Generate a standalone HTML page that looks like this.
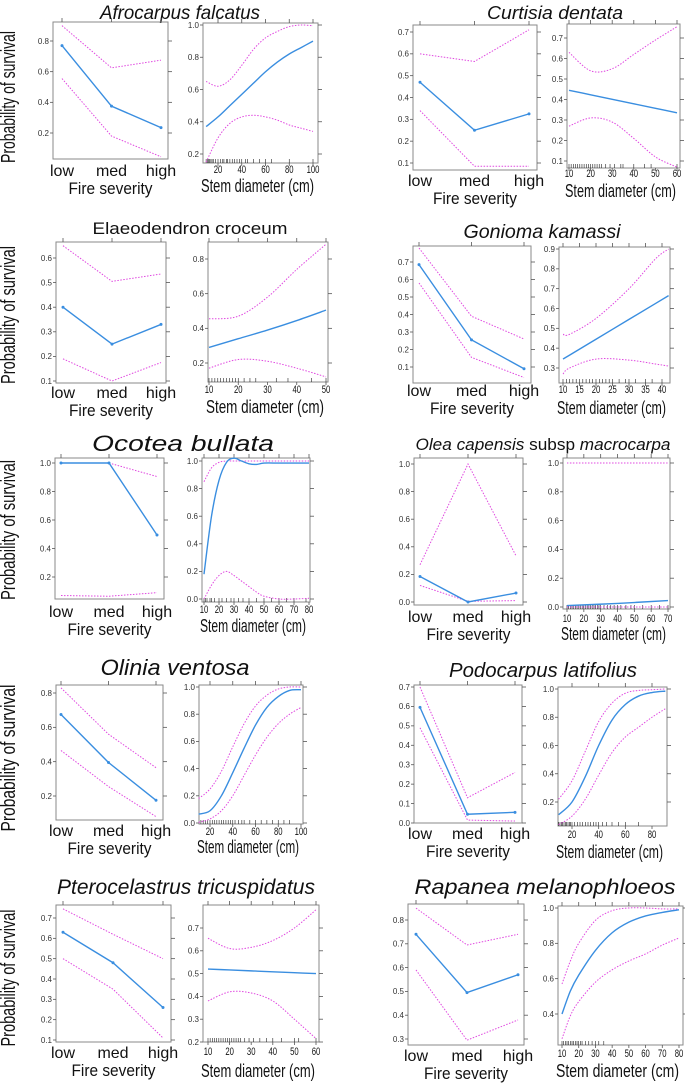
<!DOCTYPE html>
<html><head><meta charset="utf-8"><style>
html,body{margin:0;padding:0;background:#fff;}
svg{display:block;font-family:"Liberation Sans",sans-serif;}
</style></head><body>
<svg id="fig" width="685" height="1085" viewBox="0 0 685 1085" xmlns="http://www.w3.org/2000/svg"></svg>
<script>
const fireCats = ["low","med","high"];
// Afrocarpus falcatus
const afFireMean=[0.77,0.375,0.235], afFireUp=[0.90,0.625,0.675], afFireLo=[0.555,0.18,0.045];
const afDiam=[10,20,30,40,50,60,70,80,90,100];
const afDiamMean=[0.37,0.43,0.50,0.57,0.64,0.71,0.77,0.82,0.86,0.90];
const afDiamUp=[0.65,0.62,0.66,0.75,0.85,0.92,0.96,0.99,1.0,0.995];
const afDiamLo=[0.15,0.30,0.39,0.43,0.44,0.43,0.41,0.38,0.36,0.34];
const afRug=[10,11,12,13,14,15,16,18,20,22,24,25,27,28,30,32,34,36,38,40,43,45,50,55,60,65,80,100];
// Curtisia dentata
const cuFireMean=[0.47,0.25,0.325], cuFireUp=[0.60,0.565,0.71], cuFireLo=[0.34,0.085,0.085];
const cuDiam=[10,20,30,40,50,60];
const cuDiamMean=[0.445,0.423,0.401,0.379,0.357,0.335];
const cuDiamUp=[0.63,0.54,0.55,0.62,0.69,0.755];
const cuDiamLo=[0.27,0.31,0.29,0.21,0.12,0.07];
const cuRug=[10,11,12,13,14,15,16,17,18,19,20,21,22,23,24,25,27,29,31,34,35,40,45,48,60];
// Elaeodendron croceum
const elFireMean=[0.40,0.25,0.33], elFireUp=[0.65,0.505,0.535], elFireLo=[0.19,0.10,0.175];
const elDiam=[10,20,30,40,50];
const elDiamMean=[0.29,0.34,0.39,0.445,0.505];
const elDiamUp=[0.455,0.47,0.58,0.74,0.885];
const elDiamLo=[0.17,0.22,0.21,0.17,0.12];
const elRug=[10,11,12,13,14,15,16,17,18,19,20,22,24,26,33,37,45,50];
// Gonioma kamassi
const goFireMean=[0.685,0.255,0.09], goFireUp=[0.78,0.39,0.26], goFireLo=[0.58,0.155,0.04];
const goDiam=[10,12,20,30,38,42];
const goDiamMean=[0.345,0.365,0.445,0.545,0.625,0.665];
const goDiamUp=[0.47,0.47,0.55,0.70,0.85,0.90];
const goDiamLo=[0.27,0.30,0.345,0.34,0.32,0.31];
const goRug=[10,11,12,13,14,15,16,17,18,19,20,21,22,23,24,25,27,29,30,32,35,37,40];
// Ocotea bullata
const ocFireMean=[1.0,1.0,0.495], ocFireUp=[1.0,1.0,0.905], ocFireLo=[0.07,0.065,0.09];
const ocDiam=[10,15,20,25,30,35,40,45,50,60,70,80];
const ocDiamMean=[0.18,0.6,0.86,0.99,1.02,1.0,0.98,0.975,0.985,0.985,0.985,0.985];
const ocDiamUp=[0.85,0.95,0.99,1.0,1.0,1.0,1.0,1.0,1.0,1.0,1.0,1.0];
const ocDiamLo=[0.0,0.1,0.17,0.2,0.17,0.13,0.09,0.05,0.02,0.0,0.0,0.005];
const ocRug=[10,11,12,14,15,17,20,22,25,28,30,33,36,40,45,50,55,60,65,70,78];
// Olea capensis
const olFireMean=[0.185,0.0,0.065], olFireUp=[0.27,1.0,0.335], olFireLo=[0.12,0.005,0.01];
const olDiam=[10,40,70];
const olDiamMean=[0.01,0.025,0.045];
const olDiamUp=[1.0,1.0,1.0];
const olDiamLo=[0.0,0.0,0.0];
const olRug=[10,11,12,13,14,15,16,17,18,19,20,21,22,23,24,25,26,27,28,29,30,32,34,36,38,40,42,45,48,50,55,60,65,70];
// Olinia ventosa
const oiFireMean=[0.675,0.395,0.175], oiFireUp=[0.83,0.56,0.365], oiFireLo=[0.465,0.255,0.08];
const oiDiam=[10,20,30,40,50,60,70,80,90,100];
const oiDiamMean=[0.065,0.09,0.2,0.37,0.55,0.72,0.85,0.93,0.975,0.98];
const oiDiamUp=[0.18,0.25,0.38,0.56,0.73,0.86,0.94,0.985,1.0,1.0];
const oiDiamLo=[0.005,0.03,0.09,0.2,0.35,0.5,0.63,0.73,0.8,0.85];
const oiRug=[12,14,16,18,20,22,24,26,28,30,32,34,36,38,40,42,45,48,50,55,60,65,70,75,80,85,90];
// Podocarpus latifolius
const poFireMean=[0.595,0.045,0.055], poFireUp=[0.70,0.13,0.26], poFireLo=[0.49,0.015,0.01];
const poDiam=[10,20,30,40,50,60,70,80,90];
const poDiamMean=[0.11,0.2,0.38,0.6,0.78,0.89,0.95,0.975,0.985];
const poDiamUp=[0.22,0.35,0.56,0.77,0.9,0.97,0.99,0.995,1.0];
const poDiamLo=[0.04,0.1,0.22,0.39,0.55,0.66,0.73,0.8,0.86];
const poRug=[10,11,12,13,14,15,16,17,18,19,20,22,24,26,28,30,32,34,36,38,40,43,46,50,55,60,70];
// Pterocelastrus tricuspidatus
const ptFireMean=[0.63,0.48,0.26], ptFireUp=[0.745,0.62,0.5], ptFireLo=[0.5,0.35,0.11];
const ptDiam=[10,20,30,40,50,60];
const ptDiamMean=[0.52,0.516,0.512,0.508,0.504,0.50];
const ptDiamUp=[0.655,0.61,0.615,0.645,0.70,0.78];
const ptDiamLo=[0.38,0.42,0.415,0.38,0.30,0.215];
const ptRug=[10,11,12,13,14,15,16,17,18,19,20,21,22,23,24,25,27,29,31,34,37,40,44,50,52,60];
// Rapanea melanophloeos
const raFireMean=[0.74,0.495,0.57], raFireUp=[0.85,0.695,0.74], raFireLo=[0.59,0.295,0.38];
const raDiam=[10,15,20,30,40,50,60,70,80];
const raDiamMean=[0.40,0.53,0.62,0.76,0.86,0.92,0.955,0.975,0.99];
const raDiamUp=[0.57,0.70,0.80,0.93,0.985,1.0,1.0,0.995,0.995];
const raDiamLo=[0.26,0.39,0.47,0.58,0.65,0.70,0.74,0.79,0.83];
const raRug=[10,11,12,13,14,15,16,17,18,19,20,21,22,24,26,28,30,32,35];

const NS="http://www.w3.org/2000/svg";
const svg=document.getElementById('fig');
function mk(tag,attrs,parent){const e=document.createElementNS(NS,tag);for(const k in attrs)e.setAttribute(k,attrs[k]);(parent||svg).appendChild(e);return e;}
function lin(v1,p1,v2,p2){return v=>p1+(v-v1)*(p2-p1)/(v2-v1);}
function smooth(pts){let d="M"+pts[0][0]+","+pts[0][1];for(let i=0;i<pts.length-1;i++){const p0=pts[i-1]||pts[i],p1=pts[i],p2=pts[i+1],p3=pts[i+2]||p2;
const c1=[p1[0]+(p2[0]-p0[0])/6,p1[1]+(p2[1]-p0[1])/6],c2=[p2[0]-(p3[0]-p1[0])/6,p2[1]-(p3[1]-p1[1])/6];
d+=" C"+c1[0]+","+c1[1]+" "+c2[0]+","+c2[1]+" "+p2[0]+","+p2[1];}return d;}

function frame(g,b,ys,yticks,topTicks){
  const r=mk('rect',{x:b[0],y:b[1],width:b[2],height:b[3],fill:'none',stroke:'#8a8a8a','stroke-width':1},g);
  
  
  yticks.forEach(v=>{const y=ys(v);
    mk('line',{x1:b[0]-3,x2:b[0],y1:y,y2:y,stroke:'#555','stroke-width':0.8},g);
    mk('line',{x1:b[0]+b[2],x2:b[0]+b[2]+4,y1:y,y2:y,stroke:'#555','stroke-width':0.8},g);
    const t=mk('text',{x:b[0]-4,y:y+2.8,'font-size':8,'text-anchor':'end',fill:'#333'},g);
    t.textContent=v.toFixed(1);
    
    
  });
  topTicks.forEach(x=>mk('line',{x1:x,x2:x,y1:b[1]-4,y2:b[1],stroke:'#555','stroke-width':0.8},g));
}
function series(g,xs,ys,xv,yv,cls,smoothIt){
  const pts=xv.map((x,i)=>[xs(x),ys(yv[i])]);
  const d=smoothIt?smooth(pts):"M"+pts.map(p=>p.join(",")).join(" L");
  const p=mk('path',{d:d,fill:'none',stroke:cls==='mean'?'#3a8ee0':'#e048e0','stroke-width':cls==='mean'?1.4:1,'stroke-dasharray':cls==='mean'?'none':'1.5,1.5'},g);
  
  
  if(cls==='mean'&&!smoothIt)pts.forEach(q=>mk('circle',{cx:q[0],cy:q[1],r:1.5,fill:'#3a8ee0'},g));
}
function firePanel(P,mean,up,lo){
  const g=mk('g',{});
  
  
  const b=P.box, ys=lin(P.yr[0],P.yr[1],P.yr[2],P.yr[3]), xs=lin(0,P.cx[0],2,P.cx[1]);
  const idx=fireCats.map((c,i)=>i);
  frame(g,b,ys,P.yt,idx.map(xs));
  series(g,xs,ys,idx,up,'up',false);series(g,xs,ys,idx,lo,'lo',false);series(g,xs,ys,idx,mean,'mean',false);
  fireCats.forEach((c,i)=>{const t=mk('text',{x:xs(i),y:P.ly,'font-size':16,'text-anchor':'middle',fill:'#111'},g);t.textContent=c;
    
    });
  const t=mk('text',{x:b[0]+b[2]/2,y:P.ly+18,'font-size':17,'text-anchor':'middle',fill:'#111',textLength:84,lengthAdjust:'spacingAndGlyphs'},g);
  t.textContent='Fire severity';
  
  
}
function diamPanel(P,dv,mean,up,lo,rug){
  const g=mk('g',{});
  
  
  const b=P.box, ys=lin(P.yr[0],P.yr[1],P.yr[2],P.yr[3]), xs=lin(P.xr[0],P.xr[1],P.xr[2],P.xr[3]);
  frame(g,b,ys,P.yt,P.xt.map(xs));
  rug.forEach(v=>mk('line',{x1:xs(v),x2:xs(v),y1:b[1]+b[3]-4,y2:b[1]+b[3],stroke:'#222','stroke-width':0.6},g));
  series(g,xs,ys,dv,up,'up',true);series(g,xs,ys,dv,lo,'lo',true);series(g,xs,ys,dv,mean,'mean',true);
  P.xt.forEach(v=>{mk('line',{x1:xs(v),x2:xs(v),y1:b[1]+b[3],y2:b[1]+b[3]+3,stroke:'#555','stroke-width':0.8},g);
    const t=mk('text',{x:xs(v),y:P.ty,'font-size':11,'text-anchor':'middle',fill:'#111',transform:'translate('+xs(v)+',0) scale(0.7,1) translate('+(-xs(v))+',0)'},g);
    t.textContent=v;
    
    });
  const t=mk('text',{x:b[0]+b[2]/2-3,y:P.ly,'font-size':18,'text-anchor':'middle',fill:'#111',textLength:b[2]-2,lengthAdjust:'spacingAndGlyphs'},g);
  t.textContent='Stem diameter (cm)';
  
  
}
function title(x,y,w,size,parts){
  const t=mk('text',{x:x,y:y,'font-size':size,'text-anchor':'middle',fill:'#111',textLength:w,lengthAdjust:'spacingAndGlyphs'});
  parts.forEach(p=>{const s=mk('tspan',{'font-style':p[1]?'italic':'normal'},t);s.textContent=p[0];});
  
  
}
function ylab(cx,cy,len){
  const t=mk('text',{x:0,y:0,'font-size':20,'text-anchor':'middle',fill:'#111',textLength:len,lengthAdjust:'spacingAndGlyphs',transform:'translate('+cx+','+cy+') rotate(-90)'});
  t.textContent='Probability of survival';
  
  
}
const t1=[0.2,0.4,0.6,0.8];
// Row 1
title(180,19,160,19,[["Afrocarpus falcatus",1]]);
firePanel({box:[53,22,115,137],yr:[0.8,41,0.2,133],yt:[0.2,0.4,0.6,0.8],cx:[62,161],ly:176},afFireMean,afFireUp,afFireLo);
diamPanel({box:[203,23,115,140],yr:[1.0,25,0.2,154],yt:[0.2,0.4,0.6,0.8,1.0],xr:[20,218,100,313],xt:[20,40,60,80,100],ty:173,ly:192},afDiam,afDiamMean,afDiamUp,afDiamLo,afRug);
ylab(15,97,132);
title(555,19,136,18,[["Curtisia dentata",1]]);
firePanel({box:[413,25,124,145],yr:[0.7,32,0.1,163],yt:[0.1,0.2,0.3,0.4,0.5,0.6,0.7],cx:[420,529],ly:186},cuFireMean,cuFireUp,cuFireLo);
diamPanel({box:[567,24,113,144],yr:[0.7,38,0.1,161],yt:[0.1,0.2,0.3,0.4,0.5,0.6,0.7],xr:[10,569,60,677],xt:[10,20,30,40,50,60],ty:177,ly:197},cuDiam,cuDiamMean,cuDiamUp,cuDiamLo,cuRug);
// Row 2
title(190,234,195,17,[["Elaeodendron croceum",0]]);
firePanel({box:[56,242,110,141],yr:[0.6,258,0.1,381],yt:[0.1,0.2,0.3,0.4,0.5,0.6],cx:[63,161],ly:398},elFireMean,elFireUp,elFireLo);
diamPanel({box:[208,242,120,140],yr:[0.8,259,0.2,363],yt:[0.2,0.4,0.6,0.8],xr:[10,209,50,326],xt:[10,20,30,40,50],ty:393,ly:413},elDiam,elDiamMean,elDiamUp,elDiamLo,elRug);
ylab(15,315,138);
title(542,238,157,19,[["Gonioma kamassi",1]]);
firePanel({box:[413,246,118,137],yr:[0.7,262,0.1,367],yt:[0.1,0.2,0.3,0.4,0.5,0.6,0.7],cx:[419,524],ly:396},goFireMean,goFireUp,goFireLo);
diamPanel({box:[559,247,111,136],yr:[0.9,249,0.3,368],yt:[0.3,0.4,0.5,0.6,0.7,0.8,0.9],xr:[10,563,40,662],xt:[10,15,20,25,30,35,40],ty:393,ly:414},goDiam,goDiamMean,goDiamUp,goDiamLo,goRug);
// Row 3
title(183,451,182,22,[["Ocotea bullata",1]]);
firePanel({box:[55,458,109,141],yr:[1.0,463,0.2,577],yt:[0.2,0.4,0.6,0.8,1.0],cx:[61,157],ly:617},ocFireMean,ocFireUp,ocFireLo);
diamPanel({box:[202,458,108,144],yr:[1.0,461,0.0,599],yt:[0.0,0.2,0.4,0.6,0.8,1.0],xr:[10,204,80,309],xt:[10,20,30,40,50,60,70,80],ty:613,ly:632},ocDiam,ocDiamMean,ocDiamUp,ocDiamLo,ocRug);
ylab(15,530,140);
title(543,450,255,17,[["Olea capensis",1],[" subsp ",0],["macrocarpa",1]]);
firePanel({box:[414,458,109,147],yr:[1.0,464,0.0,602],yt:[0.0,0.2,0.4,0.6,0.8,1.0],cx:[420,516],ly:622},olFireMean,olFireUp,olFireLo);
diamPanel({box:[563,458,107,151],yr:[1.0,463,0.0,607],yt:[0.0,0.2,0.4,0.6,0.8,1.0],xr:[10,567,70,668],xt:[10,20,30,40,50,60,70],ty:622,ly:640},olDiam,olDiamMean,olDiamUp,olDiamLo,olRug);
// Row 4
title(175,675,149,22,[["Olinia ventosa",1]]);
firePanel({box:[56,685,107,135],yr:[0.8,693,0.2,796],yt:[0.2,0.4,0.6,0.8],cx:[61,156],ly:836},oiFireMean,oiFireUp,oiFireLo);
diamPanel({box:[199,685,104,139],yr:[1.0,687,0.0,823],yt:[0.0,0.2,0.4,0.6,0.8,1.0],xr:[20,210,100,301],xt:[20,40,60,80,100],ty:835,ly:853},oiDiam,oiDiamMean,oiDiamUp,oiDiamLo,oiRug);
ylab(15,758,147);
title(543,677,188,20,[["Podocarpus latifolius",1]]);
firePanel({box:[414,685,108,138],yr:[0.7,687,0.0,823],yt:[0.0,0.1,0.2,0.3,0.4,0.5,0.6,0.7],cx:[420,515],ly:839},poFireMean,poFireUp,poFireLo);
diamPanel({box:[558,687,109,139],yr:[1.0,689,0.2,802],yt:[0.2,0.4,0.6,0.8,1.0],xr:[20,572,80,652],xt:[20,40,60,80],ty:838,ly:858},poDiam,poDiamMean,poDiamUp,poDiamLo,poRug);
// Row 5
title(186,894,258,21,[["Pterocelastrus tricuspidatus",1]]);
firePanel({box:[56,905,115,137],yr:[0.7,918,0.1,1040],yt:[0.1,0.2,0.3,0.4,0.5,0.6,0.7],cx:[63,163],ly:1058},ptFireMean,ptFireUp,ptFireLo);
diamPanel({box:[203,905,116,137],yr:[0.7,928,0.2,1042],yt:[0.2,0.3,0.4,0.5,0.6,0.7],xr:[10,208,60,316],xt:[10,20,30,40,50,60],ty:1055,ly:1077},ptDiam,ptDiamMean,ptDiamUp,ptDiamLo,ptRug);
ylab(15,978,137);
title(545,894,261,21,[["Rapanea melanophloeos",1]]);
firePanel({box:[408,904,116,141],yr:[0.8,920,0.3,1039],yt:[0.3,0.4,0.5,0.6,0.7,0.8],cx:[416,518],ly:1061},raFireMean,raFireUp,raFireLo);
diamPanel({box:[558,906,125,139],yr:[1.0,908,0.4,1014],yt:[0.4,0.6,0.8,1.0],xr:[10,562,80,679],xt:[10,20,30,40,50,60,70,80],ty:1057,ly:1077},raDiam,raDiamMean,raDiamUp,raDiamLo,raRug);
</script>
</body></html>
